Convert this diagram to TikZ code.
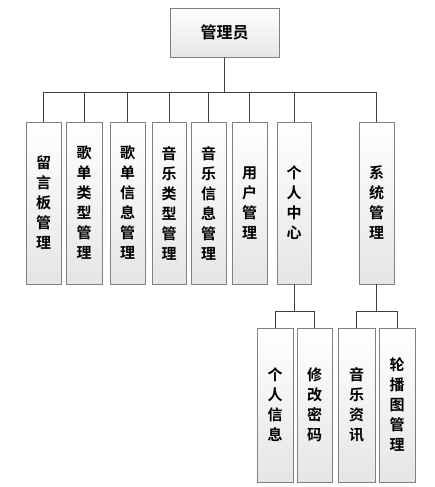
\documentclass[tikz,border=0pt]{standalone}
\usepackage{fontspec}
\setmainfont{Noto Sans CJK SC}[BoldFont={Noto Sans CJK SC Bold}]
\usetikzlibrary{shadows}
\begin{document}
\begin{tikzpicture}[x=1pt,y=-1pt,
  boxstyle/.style={draw=black!50, line width=0.9pt, top color=white, bottom color=black!10,
    drop shadow={shadow xshift=1.2pt, shadow yshift=-1.2pt, fill=black!25, opacity=0.6},
    inner sep=0pt, align=center, font=\bfseries\fontsize{15}{20}\selectfont},
  conn/.style={draw=black!75, line width=0.9pt}]
\useasboundingbox[fill=white] (0,0) rectangle (435,487);
% top
\node[boxstyle, minimum width=109pt, minimum height=49pt, font=\bfseries\fontsize{16}{20}\selectfont] (root) at (224.5,32.5) {管理员};
% level 2
\def\ltop{122}\def\lbot{284}
\foreach \nm/\xa/\xb/\txt in {
  a/26/61/{留\\言\\板\\管\\理},
  b/66/102/{歌\\单\\类\\型\\管\\理},
  c/110/145/{歌\\单\\信\\息\\管\\理},
  d/152/186/{音\\乐\\类\\型\\管\\理},
  e/191/226/{音\\乐\\信\\息\\管\\理},
  f/232/267/{用\\户\\管\\理},
  g/277/311/{个\\人\\中\\心},
  h/359/394/{系\\统\\管\\理}}{
  \node[boxstyle, minimum width={(\xb-\xa)*1pt}, minimum height=162pt] (\nm) at ({(\xa+\xb)/2},203) {\txt};
}
% level 3
\foreach \nm/\xa/\xb/\txt in {
  ga/257/293/{个\\人\\信\\息},
  gb/297/332/{修\\改\\密\\码},
  ha/338/375/{音\\乐\\资\\讯},
  hb/379/415/{轮\\播\\图\\管\\理}}{
  \node[boxstyle, minimum width={(\xb-\xa)*1pt}, minimum height=154pt] (\nm) at ({(\xa+\xb)/2},405) {\txt};
}
% connectors
\coordinate (bus) at (root.south |- 0,92);
\draw[conn] (root.south) -- (bus);
\draw[conn] (a.north |- bus) -- (h.north |- bus);
\foreach \nm in {a,b,c,d,e,f,g,h}{
  \draw[conn] (\nm.north |- bus) -- (\nm.north);
}
\coordinate (gbus) at (g.south |- 0,311);
\coordinate (hbus) at (h.south |- 0,311);
\draw[conn] (g.south) -- (gbus);
\draw[conn] (h.south) -- (hbus);
\draw[conn] (ga.north |- gbus) -- (gb.north |- gbus);
\draw[conn] (ha.north |- hbus) -- (hb.north |- hbus);
\foreach \nm/\bb in {ga/gbus,gb/gbus,ha/hbus,hb/hbus}{
  \draw[conn] (\nm.north |- \bb) -- (\nm.north);
}
\end{tikzpicture}
\end{document}
